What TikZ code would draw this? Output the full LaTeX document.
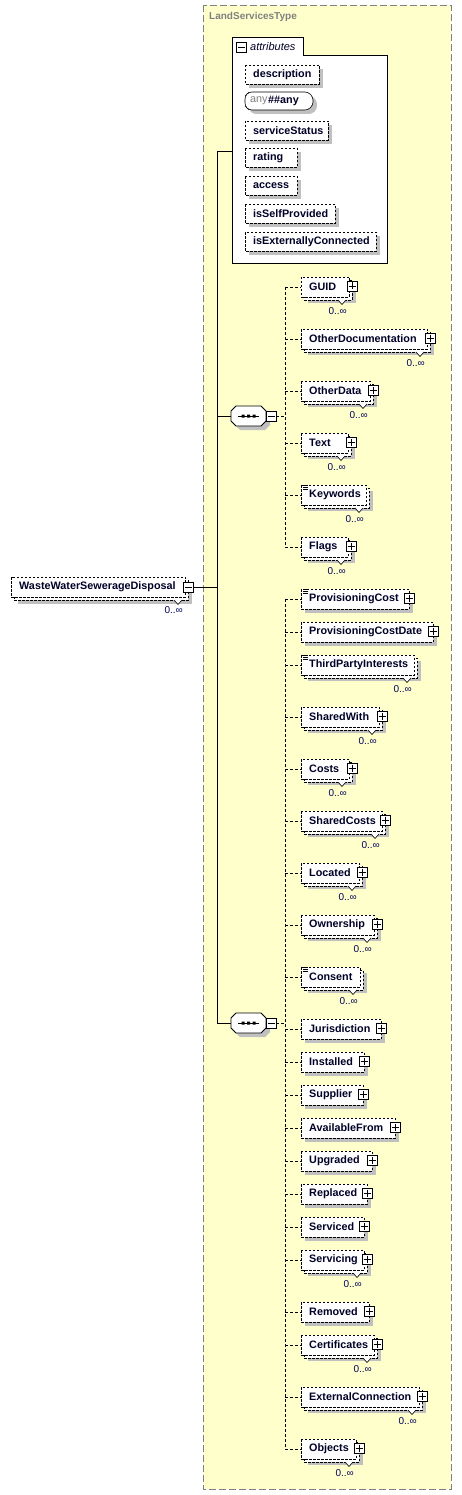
\documentclass[tikz,border=0pt]{standalone}
\usepackage{fontspec}
\setmainfont{Liberation Sans}
\usetikzlibrary{calc}
\definecolor{ybg}{RGB}{255,255,204}
\definecolor{shd}{RGB}{192,192,192}
\definecolor{navy}{RGB}{0,0,40}
\definecolor{occc}{RGB}{0,0,90}
\definecolor{ttl}{RGB}{128,128,128}
\newcommand\elfont{\fontsize{10.8}{13}\selectfont\bfseries}
\newcommand\occfont{\fontsize{10}{12}\selectfont}
\newcommand\infsym{∞}
\tikzset{
 elbox/.style={draw=black, fill=white, dash pattern=on 2.5pt off 1.5pt, line width=0.7pt},
 eltext/.style={anchor=west, inner xsep=8pt, inner ysep=0pt, minimum height=20pt, font=\elfont, text=navy},
 occ/.style={anchor=east, font=\occfont, text=occc, inner sep=0pt},
 pbox/.style={draw=black, fill=white, line width=0.6pt, minimum size=10pt, inner sep=0pt},
 conn/.style={line width=0.8pt},
 dconn/.style={line width=0.8pt, dash pattern=on 3pt off 2pt},
 notch/.style={draw=black, fill=white, line width=0.6pt},
}
\newcommand\PlusBox[3]{%
 \node[pbox] (#1) at (#2,#3) {};
 \draw[line width=0.6pt] ($(#1.center)+(-3.5,0)$) -- ($(#1.center)+(3.5,0)$) ($(#1.center)+(0,-3.5)$) -- ($(#1.center)+(0,3.5)$);
}
\newcommand\MinusBox[3]{%
 \node[pbox] (#1) at (#2,#3) {};
 \draw[line width=0.6pt] ($(#1.center)+(-3.5,0)$) -- ($(#1.center)+(3.5,0)$);
}
% multi element: id, text, c, O, vline
\newcommand\ElMulti[5]{%
 \fill[shd] (308,#3-4) rectangle (#4+4,#3+16);
 \path[elbox] (304,#3-7) rectangle (#4,#3+13);
 \path[elbox] (301,#3-10) rectangle (#4-3,#3+10);
 \path[notch] (#4-14,#3+13) -- (#4-10,#3+17.5) -- (#4-6,#3+13);
 \node[eltext] (#1) at (301,#3) {#2};
 \node[occ] (#1o) at (#4-5,#3+24) {0..\infsym};
 \draw[dconn] (#1.west -| #5) -- (#1.west);
}
% single element: id, text, c, O, vline
\newcommand\ElSingle[5]{%
 \fill[shd] (305,#3-6) rectangle (#4+4,#3+14);
 \path[elbox] (301,#3-10) rectangle (#4,#3+10);
 \node[eltext] (#1) at (301,#3) {#2};
 \draw[dconn] (#1.west -| #5) -- (#1.west);
}
\newcommand\Icon[1]{%
 \draw[line width=0.5pt] (303,#1-9.5) -- (308,#1-9.5) (303,#1-7.5) -- (308,#1-7.5) (303,#1-5.5) -- (308,#1-5.5);
}
% sequence compositor: id, c, vline
\newcommand\Seq[3]{%
 \fill[shd, shift={(4,4)}] (231,#2-5) -- (236,#2-10) -- (261,#2-10) -- (266,#2-5) -- (266,#2+5) -- (261,#2+10) -- (236,#2+10) -- (231,#2+5) -- cycle;
 \path[draw=black, fill=white, line width=0.8pt] (231,#2-5) -- (236,#2-10) -- (261,#2-10) -- (266,#2-5) -- (266,#2+5) -- (261,#2+10) -- (236,#2+10) -- (231,#2+5) -- cycle;
 \node[minimum width=35pt, minimum height=20pt, inner sep=0pt] (#1) at (248.5,#2) {};
 \draw[line width=0.8pt] (238,#2) -- (259,#2);
 \fill (241.5,#2-1.5) rectangle (244.5,#2+1.5) (247,#2-1.5) rectangle (250,#2+1.5) (252.5,#2-1.5) rectangle (255.5,#2+1.5);
 \MinusBox{#1m}{271}{#2}
 \draw[dconn] (#1m.east) -- (#1m.east -| #3);
}
% attribute: id, text, c, R
\newcommand\Attr[4]{%
 \fill[shd] (249,#3-5.5) rectangle (#4+4,#3+13.5);
 \path[elbox] (245,#3-9.5) rectangle (#4,#3+9.5);
 \node[eltext, minimum height=19pt] (#1) at (245,#3) {#2};
}
\begin{document}
\begin{tikzpicture}[x=1pt,y=-1pt]
\useasboundingbox (0,0) rectangle (462,1495);
\fill[white] (0,0) rectangle (462,1495);
% container
\path[fill=ybg, draw=ttl, line width=0.9pt, dash pattern=on 7pt off 3pt] (203,5) rectangle (451,1489);
\node[anchor=west, inner sep=0pt, font=\fontsize{10}{12}\selectfont\bfseries, text=ttl] (title) at (209,17) {LandServicesType};
% attributes panel
\path[draw=black, fill=white, line width=0.8pt] (232,37) -- (303,37) -- (303,55) -- (387,55) -- (387,263) -- (232,263) -- cycle;
\MinusBox{attm}{241.5}{47.5}
\node[anchor=west, inner sep=0pt, font=\fontsize{11}{13}\selectfont\itshape, text=navy] (attrlabel) at (250,47) {attributes};
\coordinate (attsW) at (232,151);
\Attr{description}{description}{74.5}{319}
% any
\fill[shd, shift={(4,4)}, rounded corners=3pt] (249,92) -- (308,92) -- (313,97) -- (313,105) -- (308,110) -- (249,110) -- (245,106) -- (245,96) -- cycle;
\path[draw=black, fill=white, line width=0.6pt, rounded corners=3pt] (249,92) -- (308,92) -- (313,97) -- (313,105) -- (308,110) -- (249,110) -- (245,106) -- (245,96) -- cycle;
\node[anchor=west, inner sep=0pt, font=\fontsize{10.8}{13}\selectfont, text=ttl] (anyk) at (250,101) {any};
\node[anchor=west, inner sep=0pt, font=\elfont, text=navy] (anyv) at (268,101) {\#\#any};
\Attr{servicestatus}{serviceStatus}{130.5}{328}
\Attr{rating}{rating}{158}{297}
\Attr{access}{access}{186}{297}
\Attr{isselfprovided}{isSelfProvided}{214}{335}
\Attr{isext}{isExternallyConnected}{242}{376}
% main element
\fill[shd] (18,584) rectangle (192,604);
\path[elbox] (14,580) rectangle (188,600);
\path[elbox] (11,577) rectangle (185,597);
\path[notch] (174,600) -- (178,604.5) -- (182,600);
\node[eltext] (main) at (11,587) {WasteWaterSewerageDisposal};
\node[occ] (mainocc) at (183,610) {0..\infsym};
\MinusBox{mm}{188}{587}
\coordinate (trunk) at (217,587);
\draw[conn] (mm.east) -- (mm.east -| trunk);
% sequences
\coordinate (v1) at (285,416);
\coordinate (v2) at (285,1023);
\Seq{seq1}{416}{v1}
\Seq{seq2}{1023}{v2}
\draw[conn] (attsW) -- (attsW -| trunk) -- (trunk |- seq2.west) -- (seq2.west);
\draw[conn] (trunk |- seq1.west) -- (seq1.west);
% seq1 children
\ElMulti{guid}{GUID}{287}{352}{v1}\PlusBox{guidp}{352}{286}
\ElMulti{otherdoc}{OtherDocumentation}{339}{430}{v1}\PlusBox{otherdocp}{430}{338}
\ElMulti{otherdata}{OtherData}{391}{373}{v1}\PlusBox{otherdatap}{373}{390}
\ElMulti{text}{Text}{443}{351}{v1}\PlusBox{textp}{351}{442}
\ElMulti{keywords}{Keywords}{495}{369}{v1}\Icon{495}
\ElMulti{flags}{Flags}{547}{351}{v1}\PlusBox{flagsp}{351}{546}
\draw[dconn] (v1 |- guid.west) -- (v1 |- flags.west);
% seq2 children
\ElSingle{provcost}{ProvisioningCost}{599}{409}{v2}\PlusBox{provcostp}{409}{598}\Icon{599}
\ElSingle{provcostdate}{ProvisioningCostDate}{632}{433}{v2}\PlusBox{provcostdatep}{433}{631}
\ElMulti{thirdparty}{ThirdPartyInterests}{665}{417}{v2}\Icon{665}
\ElMulti{sharedwith}{SharedWith}{717}{382}{v2}\PlusBox{sharedwithp}{382}{716}
\ElMulti{costs}{Costs}{769}{352}{v2}\PlusBox{costsp}{352}{768}
\ElMulti{sharedcosts}{SharedCosts}{821}{385}{v2}\PlusBox{sharedcostsp}{385}{820}
\ElMulti{located}{Located}{873}{362}{v2}\PlusBox{locatedp}{362}{872}
\ElMulti{ownership}{Ownership}{925}{377}{v2}\PlusBox{ownershipp}{377}{924}
\ElMulti{consent}{Consent}{977}{363}{v2}\Icon{977}
\ElSingle{jurisdiction}{Jurisdiction}{1029}{381}{v2}\PlusBox{jurisdictionp}{381}{1028}
\ElSingle{installed}{Installed}{1062}{364}{v2}\PlusBox{installedp}{364}{1061}
\ElSingle{supplier}{Supplier}{1095}{363}{v2}\PlusBox{supplierp}{363}{1094}
\ElSingle{availablefrom}{AvailableFrom}{1128}{395}{v2}\PlusBox{availablefromp}{395}{1127}
\ElSingle{upgraded}{Upgraded}{1161}{372}{v2}\PlusBox{upgradedp}{372}{1160}
\ElSingle{replaced}{Replaced}{1194}{367}{v2}\PlusBox{replacedp}{367}{1193}
\ElSingle{serviced}{Serviced}{1227}{364}{v2}\PlusBox{servicedp}{364}{1226}
\ElMulti{servicing}{Servicing}{1260}{367}{v2}\PlusBox{servicingp}{367}{1259}
\ElSingle{removed}{Removed}{1312}{369}{v2}\PlusBox{removedp}{369}{1311}
\ElMulti{certificates}{Certificates}{1345}{377}{v2}\PlusBox{certificatesp}{377}{1344}
\ElMulti{extconn}{ExternalConnection}{1397}{422}{v2}\PlusBox{extconnp}{422}{1396}
\ElMulti{objects}{Objects}{1449}{359}{v2}\PlusBox{objectsp}{359}{1448}
\draw[dconn] (v2 |- provcost.west) -- (v2 |- objects.west);
\end{tikzpicture}
\end{document}
